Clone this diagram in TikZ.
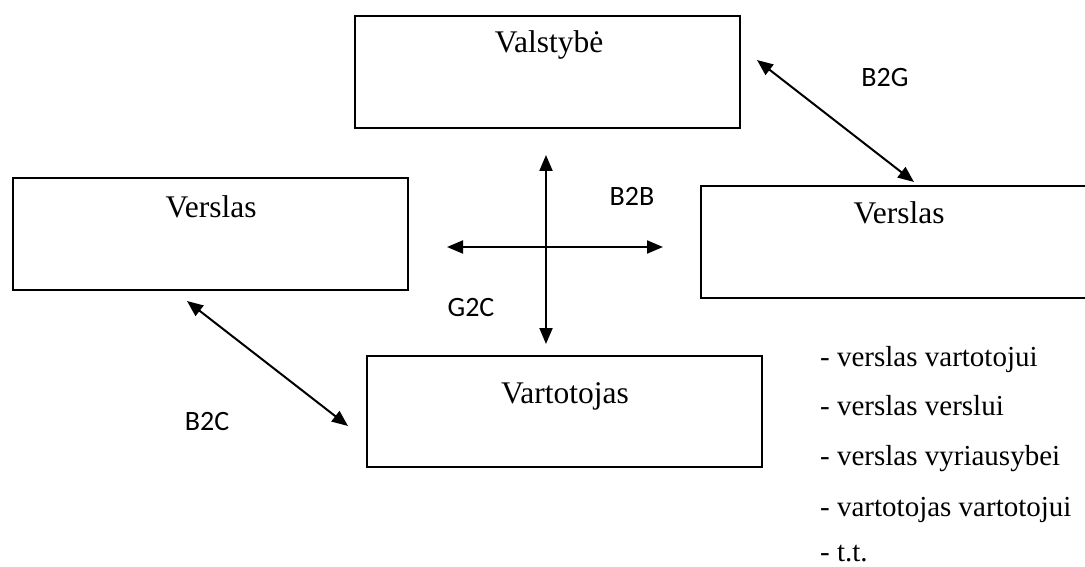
\documentclass[tikz,border=0pt]{standalone}
\usepackage{fontspec}
\setmainfont{Liberation Serif}
\newfontfamily\lblfont{Carlito}
\usetikzlibrary{arrows.meta}
\tikzset{
  box/.style={draw, line width=2.2pt, inner sep=0pt, anchor=north west},
  boxtext/.style={anchor=base, inner sep=0pt, font=\fontsize{31.5}{36}\selectfont},
  listtext/.style={anchor=base west, inner sep=0pt, font=\fontsize{29}{34}\selectfont},
  lbl/.style={anchor=base, inner sep=0pt, font=\lblfont\fontsize{28}{32}\selectfont},
  link/.style={line width=2pt, {Triangle[length=16pt,width=13pt]}-{Triangle[length=16pt,width=13pt]}}
}
\begin{document}
\begin{tikzpicture}[x=1pt,y=-1pt]
\useasboundingbox (0,0) rectangle (1085,567);
\clip (0,0) rectangle (1085,567);
% boxes
\node[box, minimum width=385pt, minimum height=112pt] (gov) at (354,15) {};
\node[box, minimum width=395pt, minimum height=112pt] (busL) at (12,177) {};
\node[box, minimum width=400pt, minimum height=112pt] (busR) at (700,185) {};
\node[box, minimum width=395pt, minimum height=111pt] (cons) at (366,355) {};
% box texts
\node[boxtext] (govT) at (549,53) {Valstybė};
\node[boxtext] (busLT) at (211,217) {Verslas};
\node[boxtext] (busRT) at (899,223) {Verslas};
\node[boxtext] (consT) at (565,403) {Vartotojas};
% cross arrows
\coordinate (up) at (546,155);
\coordinate (down) at (546,344);
\coordinate (left) at (447,247);
\coordinate (right) at (663,247);
\draw[link] (up) -- (down);
\draw[link] (left) -- (right);
% diagonal arrows
\coordinate (g1) at (757,60);
\coordinate (g2) at (914,182);
\draw[link] (g1) -- (g2);
\coordinate (c1) at (187,301);
\coordinate (c2) at (348,426);
\draw[link] (c1) -- (c2);
% labels
\node[lbl] (b2g) at (885,87) {B2G};
\node[lbl] (b2b) at (632,206) {B2B};
\node[lbl] (g2c) at (471,316) {G2C};
\node[lbl] (b2c) at (207,430) {B2C};
% list
\node[listtext] (l1) at (820,366) {- verslas vartotojui};
\node[listtext] (l2) at (820,415) {- verslas verslui};
\node[listtext] (l3) at (820,465) {- verslas vyriausybei};
\node[listtext] (l4) at (820,516) {- vartotojas vartotojui};
\node[listtext] (l5) at (820,561) {- t.t.};
\end{tikzpicture}
\end{document}
